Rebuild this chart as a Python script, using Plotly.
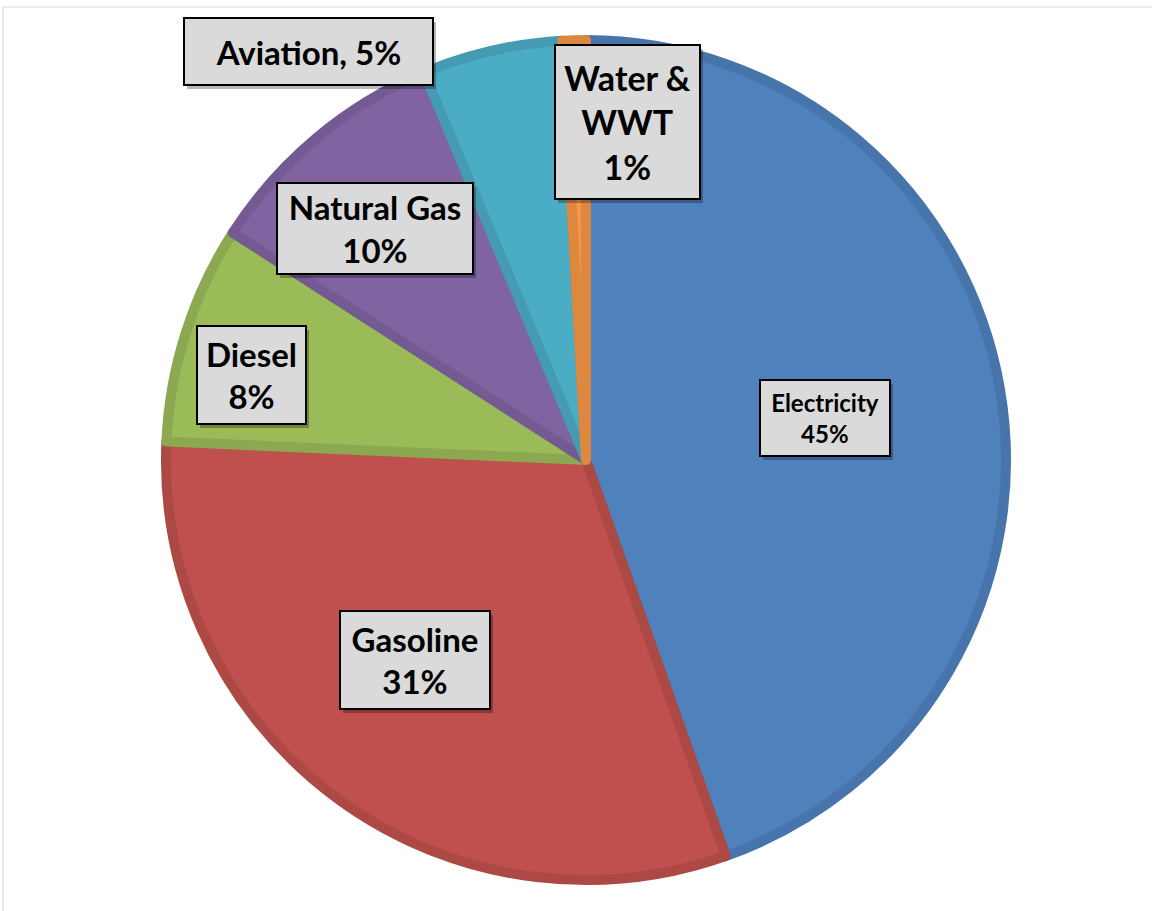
import plotly.graph_objects as go

# ---- data ----
categories = ["Electricity", "Gasoline", "Diesel", "Natural Gas", "Aviation", "Water & WWT"]
values = [44.6, 31.1, 8.4, 9.6, 5.4, 0.9]
label_names = ["Electricity", "Gasoline", "Diesel", "Natural Gas", "Aviation,", "Water &<br>WWT"]
label_seps = ["<br>", "<br>", "<br>", "<br>", " ", "<br>"]

# ---- styles ----
fill_colors = ["#4F81BD", "#C0504D", "#9BBB59", "#8064A2", "#4BACC6", "#F79646"]
edge_colors = ["#4775AB", "#AD4945", "#8CA850", "#735A92", "#449BB2", "#DE873F"]

W, H = 1152, 911
cx, cy, R = 586, 460, 420
line_w = 10

# label box centres (px) and box sizes (px), font sizes
label_pos = [(825, 418), (415, 660), (251, 375), (375, 228), (308, 51), (627, 122)]
label_box = [(132, 78), (152, 100), (111, 100), (198, 93), (251, 69), (147, 156)]
label_font = [24, 33, 33, 33, 33, 34]

total = sum(values)
texts = [f"{n}{s}{round(v / total * 100)}%" for n, s, v in zip(label_names, label_seps, values)]

fig = go.Figure()
fig.add_trace(go.Pie(
    labels=categories,
    values=values,
    sort=False,
    direction="clockwise",
    rotation=0,
    textinfo="none",
    hoverinfo="label+percent",
    marker=dict(colors=fill_colors, line=dict(color=edge_colors, width=line_w)),
    domain=dict(x=[(cx - R) / W, (cx + R) / W], y=[(H - cy - R) / H, (H - cy + R) / H]),
    showlegend=False,
))

anns = []
bw = 2
for (px, py), (bwid, bhei), fs, t in zip(label_pos, label_box, label_font, texts):
    common = dict(x=px / W, y=1 - py / H, xref="paper", yref="paper", showarrow=False,
                  width=bwid - 2 * bw, height=bhei - 2 * bw, borderpad=0,
                  xanchor="center", yanchor="middle", align="center", valign="middle")
    # soft drop shadow (box only)
    anns.append(dict(**common, text="\u00a0", font=dict(family="Lato", size=fs, color="rgba(0,0,0,0)"),
                     bgcolor="rgba(0,0,0,0.28)", borderwidth=bw, bordercolor="rgba(0,0,0,0)",
                     xshift=3, yshift=-4))
    anns.append(dict(**common, text=t, font=dict(family="Lato", size=fs, color="black", weight="bold"),
                     bgcolor="#DADADA", borderwidth=bw, bordercolor="black"))

fig.update_layout(
    width=W, height=H,
    margin=dict(l=0, r=0, t=0, b=0),
    paper_bgcolor="white",
    plot_bgcolor="white",
    annotations=anns,
    shapes=[dict(type="rect", xref="paper", yref="paper", x0=3 / W, x1=1.05,
                 y0=-0.05, y1=1 - 7 / H, line=dict(color="#D9D9D9", width=1),
                 fillcolor="rgba(0,0,0,0)", layer="below")],
)

fig.write_html("out.html")
